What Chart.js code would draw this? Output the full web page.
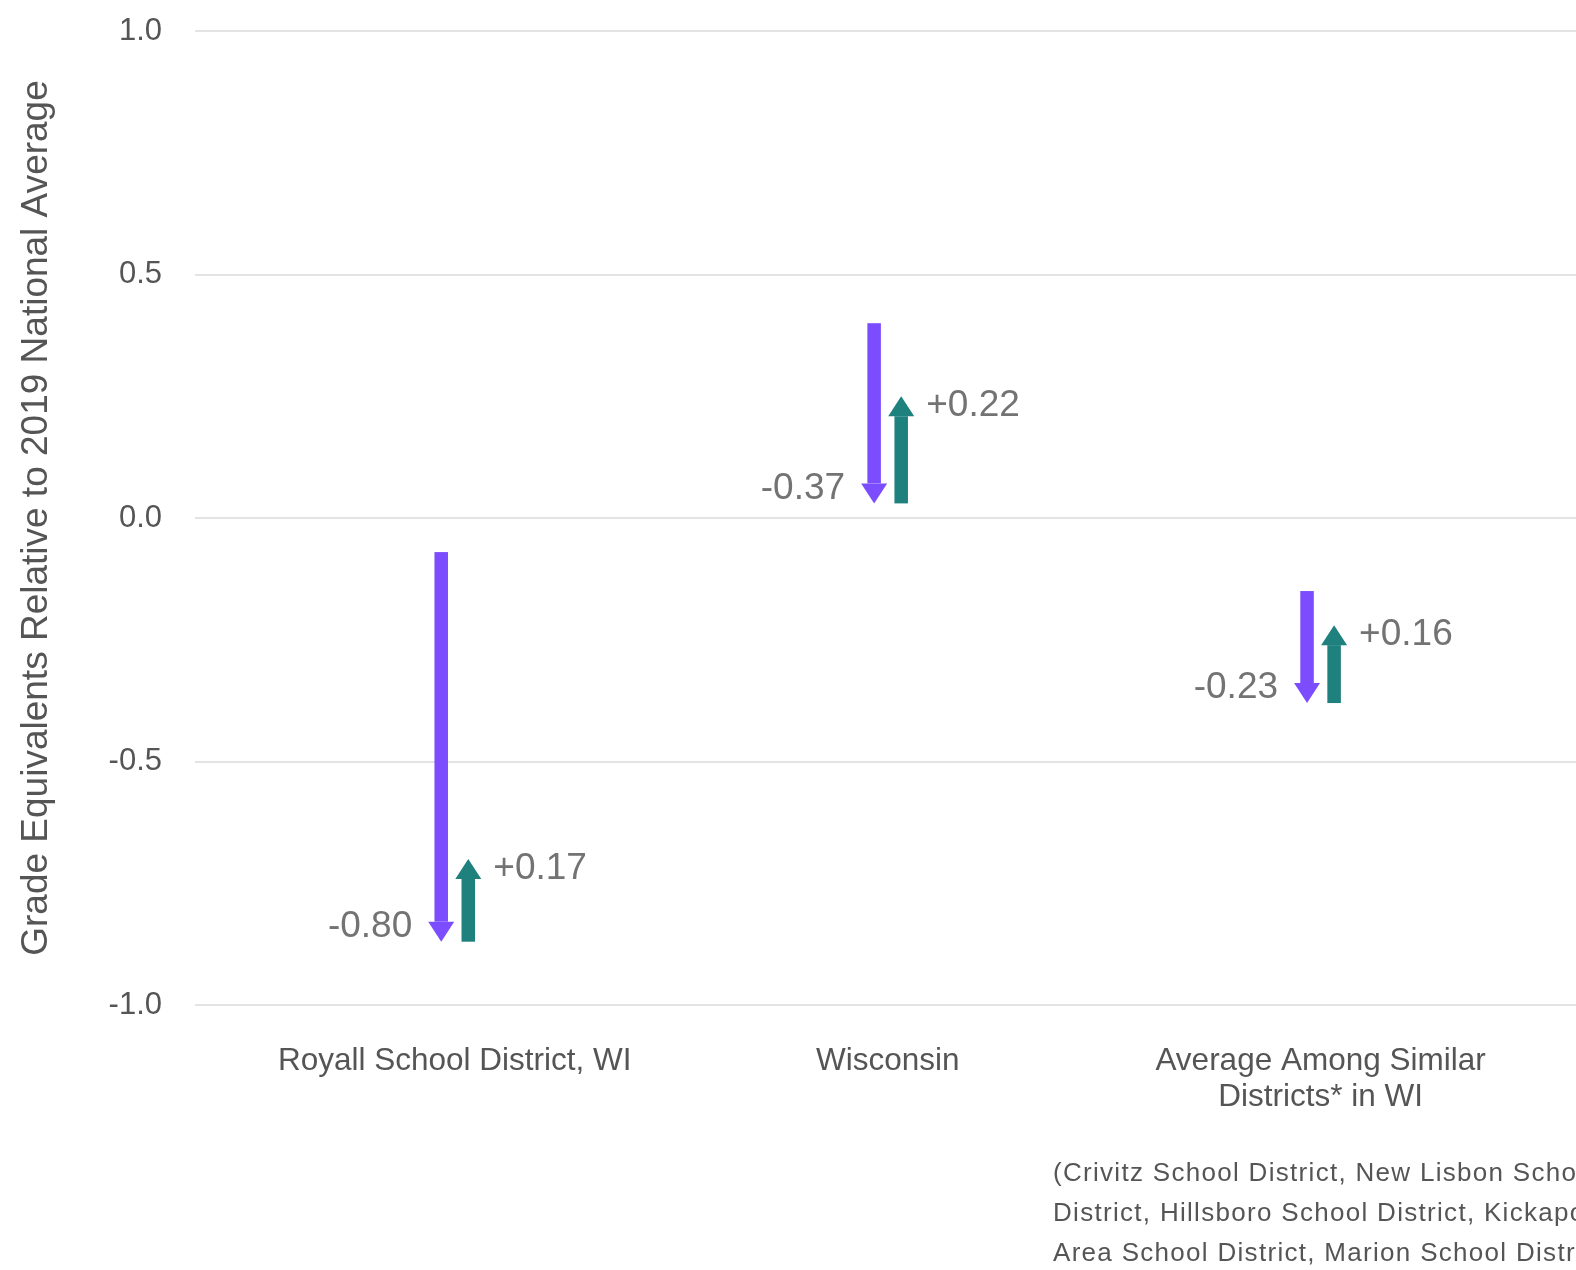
<!DOCTYPE html>
<html>
<head>
<meta charset="utf-8">
<script src="https://cdn.jsdelivr.net/npm/chart.js@4.4.1/dist/chart.umd.min.js"></script>
<style>
  html, body { margin: 0; padding: 0; background: #fff; overflow: hidden; }
  #wrap { position: relative; width: 1576px; height: 1270px; }
  #note {
    position: absolute; left: 1053px; top: 1152px;
    font-family: "Liberation Sans", Arial, sans-serif; font-size: 26px;
    letter-spacing: 1.3px; line-height: 40px; color: #555;
    white-space: nowrap;
  }
</style>
</head>
<body>
<div id="wrap">
  <canvas id="chart"></canvas>
  <div id="note">(Crivitz School District, New Lisbon School<br>District, Hillsboro School District, Kickapoo<br>Area School District, Marion School District,</div>
</div>
<script>
// categorias do eixo X
const categories = [
  'Royall School District, WI',
  'Wisconsin',
  ['Average Among Similar', 'Districts* in WI']
];
// ponto de partida, queda e recuperação (em séries de grau)
const startValues = [-0.07, 0.40, -0.15];
const declines = [-0.80, -0.37, -0.23];
const recoveries = [0.17, 0.22, 0.16];

const PURPLE = '#7c4dff';
const TEAL = '#1f817d';
const FONT = '"Liberation Sans", Arial, sans-serif';

const lowValues = startValues.map((s, i) => s + declines[i]);
const endValues = lowValues.map((l, i) => l + recoveries[i]);

const dropData = categories.map((c, i) => ({ x: i, y: [startValues[i], lowValues[i]] }));
const riseData = categories.map((c, i) => ({ x: i, y: [lowValues[i], endValues[i]] }));

// desenha cada barra como uma seta, com o rótulo da variação
const arrowPlugin = {
  id: 'arrows',
  beforeDatasetDraw(chart, args) {
    const ctx = chart.ctx;
    const ds = chart.data.datasets[args.index];
    const yScale = chart.scales.y;
    const changes = args.index === 0 ? declines : recoveries;
    const headH = 20, headW = 26;

    ctx.save();
    args.meta.data.forEach((bar, i) => {
      const [from, to] = ds.data[i].y;
      const yFrom = yScale.getPixelForValue(from);
      const yTo = yScale.getPixelForValue(to);
      const dir = yTo > yFrom ? 1 : -1;
      const yBase = yTo - dir * headH;

      ctx.fillStyle = ds.backgroundColor;
      ctx.fillRect(bar.x - bar.width / 2, Math.min(yFrom, yBase), bar.width, Math.abs(yBase - yFrom));
      ctx.beginPath();
      ctx.moveTo(bar.x - headW / 2, yBase);
      ctx.lineTo(bar.x + headW / 2, yBase);
      ctx.lineTo(bar.x, yTo);
      ctx.closePath();
      ctx.fill();

      const v = changes[i];
      const txt = (v > 0 ? '+' : '') + v.toFixed(2);
      ctx.font = '37px ' + FONT;
      ctx.fillStyle = '#737373';
      ctx.textBaseline = 'middle';
      if (dir === 1) {
        ctx.textAlign = 'right';
        ctx.fillText(txt, bar.x - 29, yTo - 15);
      } else {
        ctx.textAlign = 'left';
        ctx.fillText(txt, bar.x + 25, yTo + 10);
      }
    });
    ctx.restore();
    return false;
  }
};

new Chart(document.getElementById('chart'), {
  type: 'bar',
  data: {
    datasets: [
      { label: 'Decline', data: dropData, backgroundColor: PURPLE, categoryPercentage: 0.125, barPercentage: 0.5 },
      { label: 'Recovery', data: riseData, backgroundColor: TEAL, categoryPercentage: 0.125, barPercentage: 0.5 }
    ]
  },
  options: {
    responsive: true,
    maintainAspectRatio: false,
    animation: false,
    layout: { padding: { top: 31, left: 0, right: 0, bottom: 0 } },
    plugins: { legend: { display: false }, tooltip: { enabled: false } },
    scales: {
      x: {
        type: 'linear',
        offset: false,
        min: -0.6,
        max: 2.59,
        afterBuildTicks: s => { s.ticks = categories.map((c, i) => ({ value: i })); },
        afterFit: s => { s.height = 265; },
        grid: { display: false, drawTicks: false, offset: false },
        border: { display: false },
        ticks: {
          autoSkip: false,
          maxRotation: 0,
          padding: 39,
          color: '#555',
          font: { family: FONT, size: 31.5, lineHeight: 1.12 },
          callback: v => categories[v]
        }
      },
      y: {
        min: -1,
        max: 1,
        afterFit: s => { s.width = 195; },
        grid: { color: '#e3e3e3', lineWidth: 2, drawTicks: true, tickLength: 33, tickColor: 'rgba(0,0,0,0)' },
        border: { display: false },
        ticks: {
          stepSize: 0.5,
          padding: 0,
          color: '#555',
          font: { family: FONT, size: 31 },
          callback: v => v.toFixed(1)
        },
        title: {
          display: true,
          text: 'Grade Equivalents Relative to 2019 National Average',
          color: '#555',
          font: { family: FONT, size: 37 },
          padding: { top: 15, bottom: 0 }
        }
      }
    }
  },
  plugins: [arrowPlugin]
});
</script>
</body>
</html>
